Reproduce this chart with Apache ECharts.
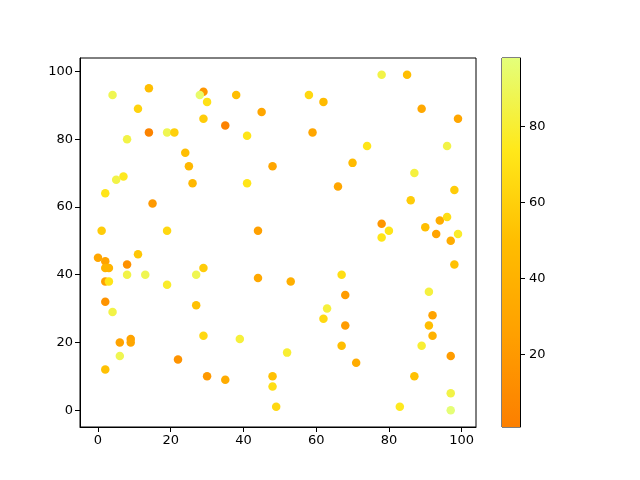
<!DOCTYPE html>
<html>
<head>
<meta charset="utf-8">
<script src="https://cdn.jsdelivr.net/npm/echarts@6/dist/echarts.min.js"></script>
<style>html,body{margin:0;padding:0;background:#fff;}#c{width:640px;height:480px;}</style>
</head>
<body>
<div id="c"></div>
<script>
// x, y, colour value
const xs = [4,14,29,28,30,38,11,45,29,35,14,19,21,41,8,24,25,48,7,5,26,41,2,15,1,19,44,
  78,85,58,62,89,99,59,74,96,70,87,66,98,86,78,80,78,94,96,90,93,99,97,
  0,2,11,2,3,8,8,13,27,29,2,3,19,44,2,4,27,29,39,6,9,9,6,2,22,30,35,48,48,49,
  98,53,67,68,63,62,68,67,71,52,91,92,91,92,89,97,87,83,97,97];
const ys = [93,95,94,93,91,93,89,88,86,84,82,82,82,81,80,76,72,72,69,68,67,67,64,61,53,53,53,
  99,99,93,91,89,86,82,78,78,73,70,66,65,62,55,53,51,56,57,54,52,52,50,
  45,44,46,42,42,43,40,40,40,42,38,38,37,39,32,29,31,22,21,20,21,20,16,12,15,10,9,10,7,1,
  43,38,40,34,30,27,25,19,14,17,35,28,25,22,19,16,10,1,5,0];
const cs = [88,50,18,94,70,50,62,30,58,3,4,88,60,72,85,50,45,30,75,85,45,72,72,20,58,65,25,
  85,50,65,48,32,30,30,72,85,48,83,30,58,58,18,72,72,35,68,50,28,78,35,
  30,28,55,42,42,14,85,88,88,58,25,72,78,32,16,85,52,65,82,28,28,30,88,52,16,20,35,52,68,65,
  52,38,68,22,82,65,22,50,35,80,83,28,50,40,80,22,52,75,85,97];
const xTicks = [0,20,40,60,80,100];
const yTicks = [0,20,40,60,80,100];
const cbTicks = [20,40,60,80];
const cRange = [1, 98];
const cmap = ['#fc7f00','#ffa000','#ffbd00','#ffe81a','#e4ff7a'];

const points = xs.map((x,i)=>[x, ys[i], cs[i]]);
const font = {color:'#000', fontSize:13, fontFamily:'DejaVu Sans'};
const chart = echarts.init(document.getElementById('c'));
chart.setOption({
  animation:false,
  backgroundColor:'#fff',
  grid:[
    {left:80, top:58, width:396, height:369, show:true, borderColor:'#000', borderWidth:1, containLabel:false},
    {left:502, top:58, width:18, height:369, show:true, borderColor:'#000', borderWidth:1, containLabel:false}
  ],
  xAxis:[
    {type:'value', gridIndex:0, min:-4.95, max:103.95,
     axisLine:{onZero:false, lineStyle:{color:'#000'}},
     axisTick:{customValues:xTicks, inside:false, length:5, lineStyle:{color:'#000'}},
     axisLabel:Object.assign({customValues:xTicks, margin:7}, font),
     splitLine:{show:false}},
    {type:'category', gridIndex:1, data:[''], show:false}
  ],
  yAxis:[
    {type:'value', gridIndex:0, min:-4.95, max:103.95,
     axisLine:{show:true, onZero:false, lineStyle:{color:'#000'}},
     axisTick:{show:true, customValues:yTicks, length:5, lineStyle:{color:'#000'}},
     axisLabel:Object.assign({customValues:yTicks, margin:7}, font),
     splitLine:{show:false}},
    {type:'value', gridIndex:1, position:'right', min:cRange[0], max:cRange[1],
     axisLine:{show:true, onZero:false, lineStyle:{color:'#000'}},
     axisTick:{show:true, customValues:cbTicks, length:5, lineStyle:{color:'#000'}},
     axisLabel:Object.assign({customValues:cbTicks, margin:9}, font),
     splitLine:{show:false}}
  ],
  visualMap:{show:false, type:'continuous', min:cRange[0], max:cRange[1], dimension:2, seriesIndex:0,
    inRange:{color:cmap}},
  series:[
    {type:'scatter', xAxisIndex:0, yAxisIndex:0, data:points, symbolSize:8.5, itemStyle:{opacity:1}},
    {type:'bar', xAxisIndex:1, yAxisIndex:1, data:[cRange[1]], barWidth:'100%', clip:true,
     itemStyle:{color:{type:'linear', x:0, y:1, x2:0, y2:0,
       colorStops:cmap.map((c,i)=>({offset:i/(cmap.length-1), color:c}))}}}
  ]
});
</script>
</body>
</html>
